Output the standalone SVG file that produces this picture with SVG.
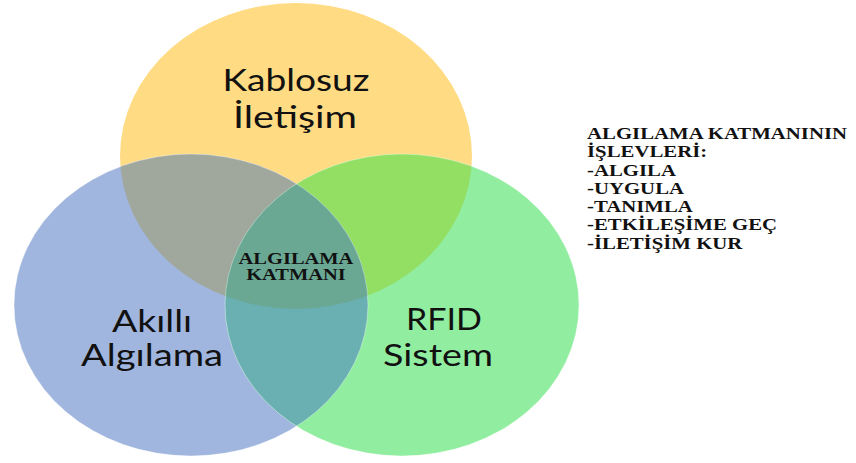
<svg xmlns="http://www.w3.org/2000/svg" width="856" height="463" viewBox="0 0 856 463">
  <style>
    .label { font-family: Lato, "Noto Sans", "Liberation Sans", sans-serif; font-size: 31px; fill: #111; text-anchor: middle; }
    .serif { font-family: "Liberation Serif", "Times New Roman", serif; font-weight: bold; font-size: 16px; fill: #111; }
    .edge { fill: none; stroke: #ffffff; stroke-opacity: 0.35; stroke-width: 1; }
  </style>
  <defs>
    <ellipse id="eTop" cx="296" cy="156" rx="176" ry="153"/>
    <ellipse id="eLeft" cx="191" cy="305" rx="177" ry="151"/>
    <ellipse id="eRight" cx="402" cy="305" rx="177" ry="151"/>
    <clipPath id="cTop"><use href="#eTop"/></clipPath>
    <clipPath id="cLeft"><use href="#eLeft"/></clipPath>
    <clipPath id="cRight"><use href="#eRight"/></clipPath>
  </defs>

  <rect width="856" height="463" fill="#ffffff"/>

  <!-- base sets -->
  <g id="kablosuz-iletisim">
    <use href="#eTop" fill="#FFDB83"/>
  </g>
  <g id="akilli-algilama">
    <use href="#eLeft" fill="#A0B6DE"/>
  </g>
  <g id="rfid-sistem">
    <use href="#eRight" fill="#91EDA0"/>
  </g>

  <!-- overlaps -->
  <g id="overlaps">
    <use href="#eLeft" fill="#A0A89E" clip-path="url(#cTop)"/>
    <use href="#eRight" fill="#93DF64" clip-path="url(#cTop)"/>
    <use href="#eRight" fill="#6AB0B2" clip-path="url(#cLeft)"/>
    <g clip-path="url(#cTop)">
      <use href="#eRight" fill="#6AA894" clip-path="url(#cLeft)"/>
    </g>
    <use href="#eLeft" class="edge"/>
    <use href="#eRight" class="edge"/>
  </g>

  <!-- set labels -->
  <g id="labels">
    <text class="label" x="296" y="91" textLength="147" lengthAdjust="spacingAndGlyphs">Kablosuz</text>
    <text class="label" x="295" y="128" textLength="124" lengthAdjust="spacingAndGlyphs">İletişim</text>
    <text class="label" x="152" y="332" textLength="80" lengthAdjust="spacingAndGlyphs">Akıllı</text>
    <text class="label" x="152" y="366" textLength="142" lengthAdjust="spacingAndGlyphs">Algılama</text>
    <text class="label" x="444" y="330" textLength="76" lengthAdjust="spacingAndGlyphs">RFID</text>
    <text class="label" x="438" y="366" textLength="110" lengthAdjust="spacingAndGlyphs">Sistem</text>
  </g>

  <!-- centre label -->
  <g id="algilama-katmani" transform="translate(296,0) scale(1.28,1)">
    <text class="serif" x="0" y="264" text-anchor="middle">ALGILAMA</text>
    <text class="serif" x="0" y="280" text-anchor="middle">KATMANI</text>
  </g>

  <!-- function list -->
  <g id="islevler" transform="translate(587,0) scale(1.3,1)">
    <text class="serif" x="0" y="139">ALGILAMA KATMANININ</text>
    <text class="serif" x="0" y="157.3">İŞLEVLERİ:</text>
    <text class="serif" x="0" y="175.6">-ALGILA</text>
    <text class="serif" x="0" y="193.9">-UYGULA</text>
    <text class="serif" x="0" y="212.2">-TANIMLA</text>
    <text class="serif" x="0" y="230.5">-ETKİLEŞİME GEÇ</text>
    <text class="serif" x="0" y="248.8">-İLETİŞİM KUR</text>
  </g>
</svg>
